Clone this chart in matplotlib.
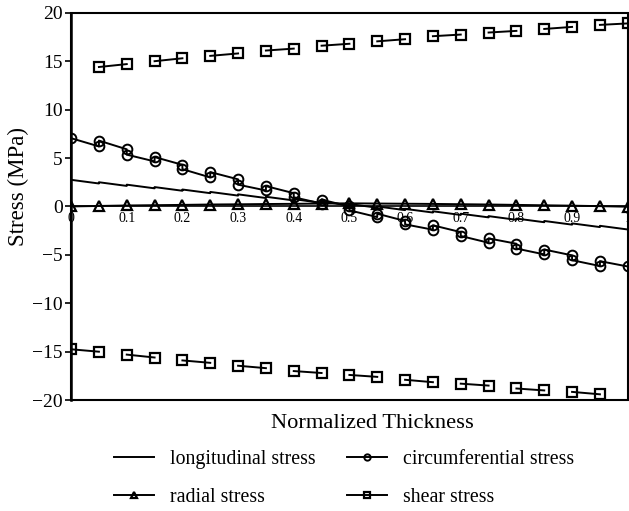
import numpy as np
import matplotlib
matplotlib.use("Agg")
import matplotlib.pyplot as plt
from matplotlib.patches import Rectangle

plt.rcParams['font.family'] = ['Liberation Serif', 'DejaVu Serif']

# nodes through the thickness (20 elements)
nodes = [0, 0.05, 0.1, 0.15, 0.2, 0.25, 0.3, 0.35, 0.4, 0.45, 0.5,
         0.55, 0.6, 0.65, 0.7, 0.75, 0.8, 0.85, 0.9, 0.95, 1.0]

# element values: start (left node) and end (right node)
long_start = [2.75, 2.50, 2.25, 2.00, 1.75, 1.50, 1.25, 1.00, 0.75, 0.50,
              0.25, 0.00, -0.25, -0.50, -0.75, -1.00, -1.25, -1.50, -1.75, -2.00]
long_end = [2.37, 2.12, 1.87, 1.62, 1.37, 1.12, 0.87, 0.62, 0.37, 0.12,
            -0.13, -0.38, -0.63, -0.88, -1.13, -1.38, -1.63, -1.88, -2.13, -2.38]

circ_start = [7.05, 6.8, 5.35, 5.1, 3.85, 3.55, 2.25, 2.1, 0.95, 0.7,
              -0.4, -0.75, -1.85, -1.95, -3.05, -3.3, -4.35, -4.45, -5.55, -5.65]
circ_end = [6.2, 5.9, 4.65, 4.3, 3.0, 2.8, 1.65, 1.37, 0.3, 0.0,
            -1.1, -1.5, -2.4, -2.65, -3.75, -3.85, -4.95, -5.05, -6.15, -6.2]

radial = [0.0, 0.05, 0.1, 0.13, 0.16, 0.2, 0.22, 0.25, 0.27, 0.3, 0.32,
          0.3, 0.28, 0.26, 0.23, 0.2, 0.16, 0.12, 0.08, 0.03, -0.03]

shear_start = [-14.75, 14.4, -15.3, 15.0, -15.9, 15.55, -16.45, 16.1, -17.0, 16.6,
               -17.4, 17.05, -17.9, 17.58, -18.3, 17.96, -18.8, 18.33, -19.15, 18.75]
shear_end = [-15.0, 14.7, -15.6, 15.3, -16.15, 15.8, -16.7, 16.3, -17.2, 16.8,
             -17.6, 17.27, -18.15, 17.75, -18.5, 18.13, -19.0, 18.54, -19.4, 18.9]

xticks = [0, 0.1, 0.2, 0.3, 0.4, 0.5, 0.6, 0.7, 0.8, 0.9, 1]
xtick_labels = ['0', '0.1', '0.2', '0.3', '0.4', '0.5', '0.6', '0.7', '0.8', '0.9', '1']


def doubled(start, end):
    # each element drawn from its left node to its right node, joined at the nodes
    xs, ys = [], []
    for i in range(len(start)):
        xs += [nodes[i], nodes[i + 1]]
        ys += [start[i], end[i]]
    return np.array(xs), np.array(ys)


def broken(start, end):
    # each element as its own segment
    xs, ys = [], []
    for i in range(len(start)):
        xs += [nodes[i], nodes[i + 1], np.nan]
        ys += [start[i], end[i], np.nan]
    return np.array(xs), np.array(ys)


fig = plt.figure(figsize=(6.29, 5.11), dpi=100)
ax = fig.add_axes([0.113, 0.217, 0.885, 0.758])

lw = 1.4
x_l, y_l = doubled(long_start, long_end)
h_long, = ax.plot(x_l, y_l, color='black', lw=lw, label='longitudinal stress')

x_c, y_c = doubled(circ_start, circ_end)
h_circ, = ax.plot(x_c, y_c, color='black', lw=lw, marker='o', ms=7, mfc='none',
                  mew=1.4, label='circumferential stress')

h_rad, = ax.plot(nodes, radial, color='black', lw=lw, marker='^', ms=6.5, mfc='none',
                 mew=1.6, label='radial stress')

x_s, y_s = broken(shear_start, shear_end)
h_shear, = ax.plot(x_s, y_s, color='black', lw=lw, marker='s', ms=6.5, mfc='none',
                   mew=1.6, label='shear stress')

ax.set_xlim(0, 1)
ax.set_ylim(-20, 20)
ax.set_yticks([-20, -15, -10, -5, 0, 5, 10, 15, 20])
ax.set_yticklabels(['\u221220', '\u221215', '\u221210', '\u22125', '0', '5', '10', '15', '20'])
ax.tick_params(axis='y', labelsize=14, direction='out', length=4, width=1.2, pad=2)

# horizontal axis crosses at zero
ax.spines['bottom'].set_position(('data', 0))
ax.spines['bottom'].set_linewidth(1.2)
ax.spines['left'].set_linewidth(1.8)
ax.spines['top'].set_visible(False)
ax.spines['right'].set_visible(False)
ax.add_patch(Rectangle((0, 0), 1, 1, transform=ax.transAxes, fill=False,
                       lw=1.5, ec='black', clip_on=False))
ax.set_xticks(xticks)
ax.set_xticklabels(xtick_labels)
ax.tick_params(axis='x', labelsize=10, length=0, pad=4)

fig.text(0.592, 0.172, 'Normalized Thickness', fontsize=16.2, ha='center', va='center')
fig.text(0.03, 0.635, 'Stress (MPa)', fontsize=16.5, rotation=90, ha='center', va='center')

fig.legend(handles=[h_long, h_rad, h_circ, h_shear], ncol=2, loc='center',
           bbox_to_anchor=(0.547, 0.064), frameon=False, fontsize=14.3,
           markerscale=0.65, handlelength=2.0, handletextpad=0.8,
           columnspacing=1.6, labelspacing=0.95)

fig.savefig('out.png', dpi=100)
